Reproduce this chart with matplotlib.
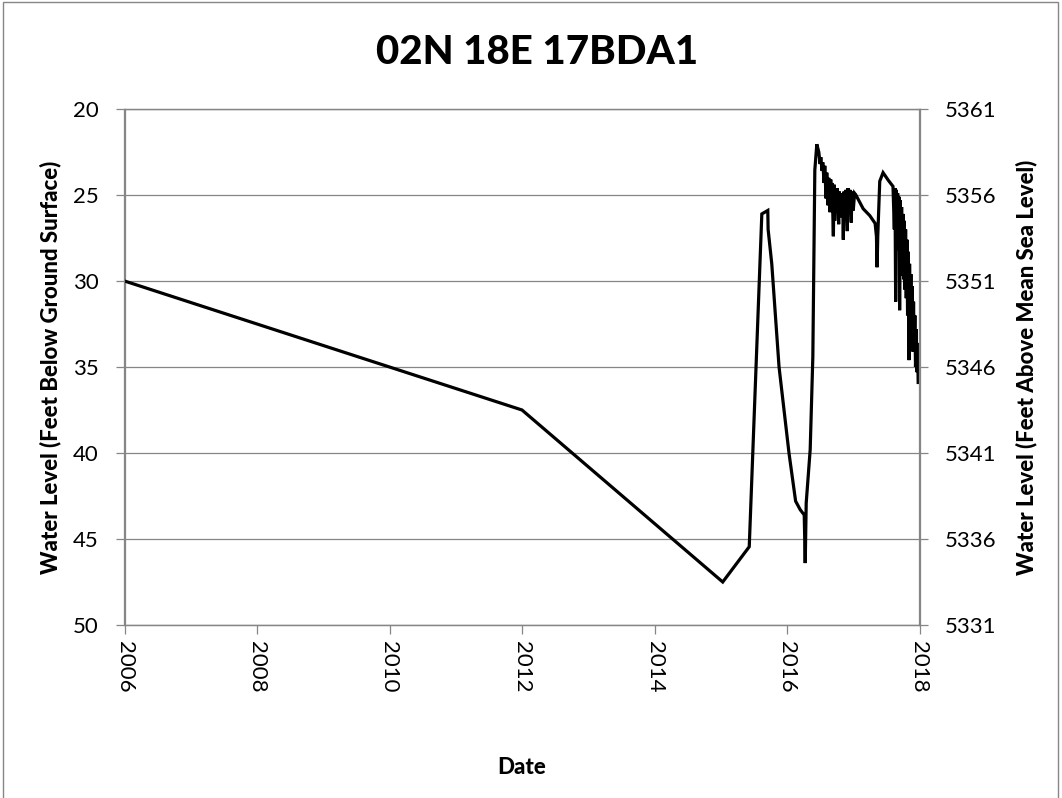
import matplotlib
matplotlib.use("Agg")
import matplotlib.pyplot as plt
from matplotlib.patches import Rectangle

plt.rcParams['font.family'] = ['Lato', 'DejaVu Sans']

title = "02N 18E 17BDA1"
x_label = "Date"
y_label_left = "Water Level (Feet Below Ground Surface)"
y_label_right = "Water Level (Feet Above Mean Sea Level)"

# decimal years and depth to water (feet below ground surface)
years = [
    2006.00, 2012.00, 2015.03, 2015.43, 2015.62, 2015.71, 2015.715, 2015.77,
    2015.88, 2016.03, 2016.13, 2016.20, 2016.26, 2016.275, 2016.29, 2016.35,
    2016.39, 2016.42, 2016.45,
    2016.48, 2016.50, 2016.51, 2016.53, 2016.54, 2016.56, 2016.57, 2016.59,
    2016.60, 2016.62, 2016.63, 2016.65, 2016.66, 2016.67, 2016.68, 2016.70,
    2016.71, 2016.72, 2016.73, 2016.75, 2016.76, 2016.78, 2016.79, 2016.80,
    2016.81, 2016.83, 2016.84, 2016.85, 2016.86, 2016.88, 2016.89, 2016.91,
    2016.92, 2016.94, 2016.95, 2016.97, 2016.98, 2017.00, 2017.02, 2017.04,
    2017.15, 2017.25, 2017.33, 2017.35, 2017.36, 2017.37, 2017.40, 2017.45,
    2017.53, 2017.60,
    2017.62, 2017.63, 2017.64, 2017.65, 2017.66, 2017.67, 2017.68, 2017.69,
    2017.70, 2017.71, 2017.72, 2017.73, 2017.74, 2017.75, 2017.76, 2017.77,
    2017.78, 2017.79, 2017.80, 2017.81, 2017.82, 2017.83, 2017.84, 2017.85,
    2017.86, 2017.87, 2017.88, 2017.89, 2017.90, 2017.91, 2017.92, 2017.93,
    2017.94, 2017.95, 2017.96, 2017.97, 2017.98, 2018.00,
]
depth_ft = [
    30.0, 37.5, 47.5, 45.45, 26.1, 25.9, 27.0, 29.0,
    35.0, 40.0, 42.8, 43.3, 43.6, 46.4, 42.9, 39.8,
    34.4, 23.55, 22.05,
    22.5, 23.2, 22.8, 23.6, 23.1, 24.3, 23.3, 25.2,
    23.7, 25.6, 24.0, 26.0, 24.1, 25.8, 24.3, 27.4,
    24.4, 26.5, 24.6, 26.0, 24.6, 26.7, 24.8, 25.9,
    24.9, 26.3, 24.9, 27.6, 24.8, 26.2, 24.7, 27.1,
    24.6, 25.8, 24.7, 26.6, 24.8, 25.9, 24.9, 25.0,
    25.8, 26.2, 26.65, 27.4, 29.2, 27.4, 24.2, 23.7,
    24.15, 24.5,
    27.0, 24.6, 31.2, 24.7, 27.8, 24.9, 28.2, 25.1,
    31.7, 25.3, 28.8, 25.7, 29.7, 26.1, 29.9, 26.5,
    30.5, 27.0, 31.0, 27.6, 32.0, 28.3, 34.6, 29.0,
    32.5, 29.6, 33.2, 30.3, 34.1, 31.2, 34.0, 32.0,
    35.0, 32.8, 35.3, 33.6, 35.9, 35.9,
]

left_ticks = [20, 25, 30, 35, 40, 45, 50]
right_ticks = [5331, 5336, 5341, 5346, 5351, 5356, 5361]
x_ticks = [2006, 2008, 2010, 2012, 2014, 2016, 2018]

grid_col = "#868686"

fig = plt.figure(figsize=(10.62, 7.98), dpi=100)
ax = fig.add_axes([124.5 / 1062, 1 - 625 / 798, 795 / 1062, 516 / 798])

for v in left_ticks:
    ax.axhline(v, color=grid_col, lw=0.9, zorder=1)

ax.plot(years, depth_ft, color="black", lw=2.3, solid_joinstyle="miter", zorder=3)

ax.set_xlim(2006, 2018)
ax.set_ylim(50, 20)
ax.set_xticks(x_ticks)
ax.set_xticklabels([str(t) for t in x_ticks], rotation=270)
ax.set_yticks(left_ticks)
ax.tick_params(axis="both", direction="out", length=6.5, width=0.9, color=grid_col,
               labelsize=16, labelcolor="black")
ax.tick_params(axis="y", pad=12)
ax.tick_params(axis="x", pad=5)
for s in ["left", "right", "bottom", "top"]:
    ax.spines[s].set_color(grid_col)
    ax.spines[s].set_linewidth(0.9)

ax2 = ax.twinx()
ax2.set_ylim(5331, 5361)
ax2.set_yticks(right_ticks)
ax2.tick_params(axis="y", direction="out", length=6.5, width=0.9, color=grid_col,
                labelsize=16, pad=12)
for s in ["left", "right", "bottom", "top"]:
    ax2.spines[s].set_color(grid_col)
    ax2.spines[s].set_linewidth(0.9)

fig.text(537 / 1062, 1 - 52 / 798, title, ha="center", va="center", fontsize=29, fontweight="black")
fig.text(522 / 1062, 1 - 768 / 798, x_label, ha="center", va="center", fontsize=16, fontweight="black")
fig.text(50 / 1062, 1 - 367 / 798, y_label_left, ha="center", va="center", rotation=90,
         fontsize=16, fontweight="black")
fig.text(1026 / 1062, 1 - 367 / 798, y_label_right, ha="center", va="center", rotation=90,
         fontsize=16, fontweight="black")

fig.patches.append(Rectangle((3 / 1062, -0.01), 1055 / 1062, (798 - 2) / 798 + 0.01,
                             transform=fig.transFigure, fill=False, edgecolor=grid_col, lw=1.0))

fig.savefig("out.png", dpi=100)
